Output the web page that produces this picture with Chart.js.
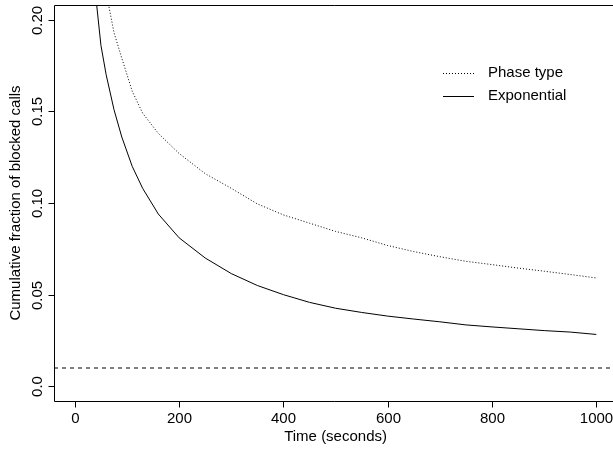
<!DOCTYPE html>
<html><head><meta charset="utf-8">
<script src="https://cdn.jsdelivr.net/npm/chart.js@4/dist/chart.umd.min.js"></script>
<style>html,body{margin:0;padding:0;background:#fff;}canvas{display:block;}</style>
</head><body>
<canvas id="c" width="613" height="451"></canvas>
<script>
// ---- data ----
const timePhase = [60, 75, 90, 110, 130, 160, 200, 250, 300, 350, 400, 450, 500, 550, 600, 650, 700, 750, 800, 850, 900, 950, 1000];
const phaseType = [0.215, 0.193, 0.179, 0.161, 0.149, 0.138, 0.127, 0.116, 0.108, 0.0995, 0.0935, 0.089, 0.0845, 0.081, 0.0768, 0.0735, 0.0707, 0.0682, 0.0664, 0.0645, 0.0628, 0.061, 0.0591];
const timeExp = [40, 50, 60, 75, 90, 110, 130, 160, 200, 250, 300, 350, 400, 450, 500, 550, 600, 650, 700, 750, 800, 850, 900, 950, 1000];
const exponential = [0.213, 0.186, 0.170, 0.151, 0.136, 0.120, 0.108, 0.094, 0.081, 0.070, 0.0615, 0.055, 0.050, 0.0458, 0.0426, 0.0403, 0.0383, 0.0367, 0.0352, 0.0335, 0.0324, 0.0314, 0.0304, 0.0296, 0.0283];
const thresholdLevel = 0.01;
const xTicks = [0, 200, 400, 600, 800, 1000];
const yTicks = [0, 0.05, 0.10, 0.15, 0.20];
const yTickLabels = ["0.0", "0.05", "0.10", "0.15", "0.20"];
const seriesNames = ["Phase type", "Exponential"];
const xTitle = "Time (seconds)";
const yTitle = "Cumulative fraction of blocked calls";

const X_MIN = -40, X_MAX = 1032, Y_MIN = -0.008, Y_MAX = 0.208;
const FONT = '15px "Liberation Sans", Arial, sans-serif';

const toXY = (xs, ys) => xs.map((x, i) => ({x: x, y: ys[i]}));

const rAxesPlugin = {
  id: 'rAxes',
  afterDraw(chart) {
    const ctx = chart.ctx;
    const xs = chart.scales.x, ys = chart.scales.y;
    const a = chart.chartArea;
    ctx.save();
    ctx.strokeStyle = '#000';
    ctx.fillStyle = '#000';
    ctx.lineWidth = 1;
    // box (right edge lies beyond the canvas)
    const right = xs.getPixelForValue(1040);
    ctx.beginPath();
    ctx.moveTo(right, Math.round(a.top) + 0.5);
    ctx.lineTo(Math.round(a.left) + 0.5, Math.round(a.top) + 0.5);
    ctx.lineTo(Math.round(a.left) + 0.5, Math.round(a.bottom) + 0.5);
    ctx.lineTo(right, Math.round(a.bottom) + 0.5);
    ctx.stroke();
    ctx.font = FONT;
    // x ticks
    ctx.textAlign = 'center';
    ctx.textBaseline = 'middle';
    const by = Math.round(a.bottom) + 0.5;
    xTicks.forEach(v => {
      const px = Math.round(xs.getPixelForValue(v)) + 0.5;
      ctx.beginPath(); ctx.moveTo(px, by); ctx.lineTo(px, by + 6); ctx.stroke();
      ctx.fillText(String(v), px, by + 17);
    });
    // y ticks
    const lx = Math.round(a.left) + 0.5;
    yTicks.forEach((v, i) => {
      const py = Math.round(ys.getPixelForValue(v)) + 0.5;
      ctx.beginPath(); ctx.moveTo(lx, py); ctx.lineTo(lx - 6, py); ctx.stroke();
      ctx.save();
      ctx.translate(37.5, py);
      ctx.rotate(-Math.PI / 2);
      ctx.fillText(yTickLabels[i], 0, 0);
      ctx.restore();
    });
    // titles
    ctx.fillText(xTitle, xs.getPixelForValue(500), 437);
    ctx.save();
    ctx.translate(16, (a.top + a.bottom) / 2);
    ctx.rotate(-Math.PI / 2);
    ctx.fillText(yTitle, 0, 0);
    ctx.restore();
    // legend
    const ds = chart.data.datasets;
    ctx.textAlign = 'left';
    [[0, 73], [1, 96]].forEach(([k, y]) => {
      ctx.setLineDash(ds[k].borderDash || []);
      ctx.beginPath(); ctx.moveTo(443, y + 0.5); ctx.lineTo(474, y + 0.5); ctx.stroke();
      ctx.setLineDash([]);
      ctx.fillText(seriesNames[k], 488, y);
    });
    ctx.restore();
  }
};

new Chart(document.getElementById('c'), {
  type: 'line',
  data: {
    datasets: [
      {label: seriesNames[0], data: toXY(timePhase, phaseType), borderColor: '#000', borderWidth: 1, borderDash: [1, 2], pointRadius: 0, tension: 0, fill: false},
      {label: seriesNames[1], data: toXY(timeExp, exponential), borderColor: '#000', borderWidth: 1, pointRadius: 0, tension: 0, fill: false},
      {label: 'threshold', data: [{x: X_MIN, y: thresholdLevel}, {x: X_MAX, y: thresholdLevel}], borderColor: '#000', borderWidth: 1, borderDash: [4, 4], pointRadius: 0, fill: false}
    ]
  },
  options: {
    responsive: false,
    devicePixelRatio: 1,
    animation: false,
    layout: {padding: {left: 54, top: 5, right: 0, bottom: 50}},
    plugins: {legend: {display: false}, tooltip: {enabled: false}},
    scales: {
      x: {type: 'linear', min: X_MIN, max: X_MAX, display: false},
      y: {type: 'linear', min: Y_MIN, max: Y_MAX, display: false}
    }
  },
  plugins: [rAxesPlugin]
});
</script>
</body></html>
